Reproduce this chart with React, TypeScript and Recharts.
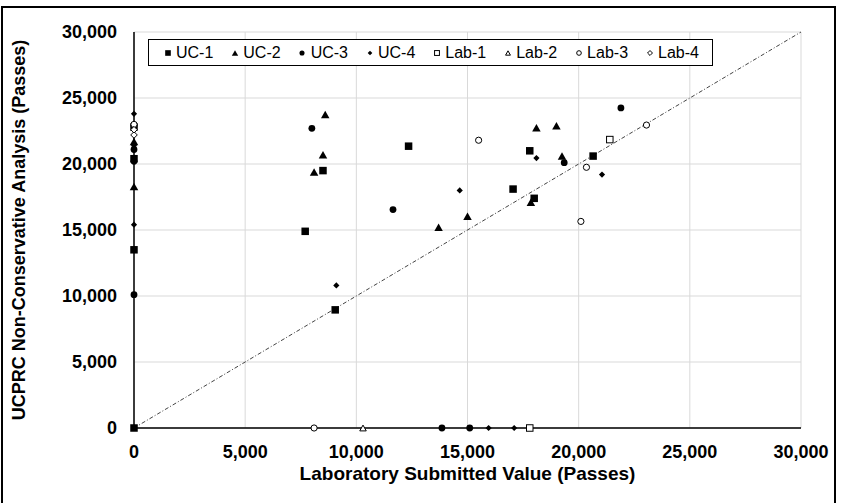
import React from 'react';
import { ScatterChart, Scatter, XAxis, YAxis, CartesianGrid, ReferenceLine, Legend, Label } from 'recharts';

const FONT = '"Liberation Sans", Arial, sans-serif';

// Axis ticks (passes)
const AXIS_TICKS = [0, 5000, 10000, 15000, 20000, 25000, 30000];
const DIAGONAL = [0, 30000];

// Series names
const SERIES_NAMES = ['UC-1', 'UC-2', 'UC-3', 'UC-4', 'Lab-1', 'Lab-2', 'Lab-3', 'Lab-4'];

// [laboratory submitted value, UCPRC non-conservative analysis]
const UC1: [number, number][] = [
  [0, 0], [0, 13500], [0, 20400], [0, 22800], [7700, 14900], [8500, 19500], [9050, 8950],
  [12350, 21350], [17050, 18100], [17800, 21000], [18000, 17400], [20650, 20600],
];
const UC2: [number, number][] = [
  [0, 18300], [0, 21700], [8100, 19400], [8500, 20700], [8600, 23750], [13700, 15200],
  [15000, 16050], [17850, 17100], [18100, 22750], [19000, 22900], [19250, 20600],
];
const UC3: [number, number][] = [
  [0, 10100], [0, 20200], [0, 21100], [0, 22900], [8000, 22700], [11650, 16550],
  [13850, 0], [15100, 0], [19350, 20100], [21900, 24250],
];
const UC4: [number, number][] = [
  [0, 15400], [0, 21400], [0, 23800], [9100, 10800], [14650, 18000], [15950, 0],
  [17100, 0], [18100, 20450], [21050, 19200],
];
const LAB1: [number, number][] = [[17800, 0], [21400, 21850]];
const LAB2: [number, number][] = [[10300, 0]];
const LAB3: [number, number][] = [
  [0, 23000], [8100, 0], [15500, 21800], [20100, 15650], [20350, 19750], [23050, 22950],
];
const LAB4: [number, number][] = [[0, 22200], [0, 22600]];

type Kind = 'square' | 'triangle' | 'circle' | 'diamond';

const SERIES: { name: string; data: [number, number][]; kind: Kind; filled: boolean }[] = [
  { name: SERIES_NAMES[0], data: UC1, kind: 'square', filled: true },
  { name: SERIES_NAMES[1], data: UC2, kind: 'triangle', filled: true },
  { name: SERIES_NAMES[2], data: UC3, kind: 'circle', filled: true },
  { name: SERIES_NAMES[3], data: UC4, kind: 'diamond', filled: true },
  { name: SERIES_NAMES[4], data: LAB1, kind: 'square', filled: false },
  { name: SERIES_NAMES[5], data: LAB2, kind: 'triangle', filled: false },
  { name: SERIES_NAMES[6], data: LAB3, kind: 'circle', filled: false },
  { name: SERIES_NAMES[7], data: LAB4, kind: 'diamond', filled: false },
];

function markerEl(kind: Kind, filled: boolean, cx: number, cy: number, scale = 1) {
  const fill = filled ? '#000' : '#fff';
  const stroke = '#000';
  const sw = filled ? 0 : 1;
  if (kind === 'square') {
    const s = (filled ? 7.5 : 6.5) * scale;
    return <rect x={cx - s / 2} y={cy - s / 2} width={s} height={s} fill={fill} stroke={stroke} strokeWidth={sw} />;
  }
  if (kind === 'triangle') {
    const w = (filled ? 8.5 : 6.5) * scale;
    const h = (filled ? 7.5 : 5.8) * scale;
    const pts = `${cx},${cy - h / 2} ${cx + w / 2},${cy + h / 2} ${cx - w / 2},${cy + h / 2}`;
    return <polygon points={pts} fill={fill} stroke={stroke} strokeWidth={sw} strokeLinejoin="miter" />;
  }
  if (kind === 'circle') {
    const r = (filled ? 3.4 : 3.1) * scale;
    return <circle cx={cx} cy={cy} r={r} fill={fill} stroke={stroke} strokeWidth={sw} />;
  }
  const d = (filled ? 3.1 : 3.3) * scale;
  const pts = `${cx},${cy - d} ${cx + d},${cy} ${cx},${cy + d} ${cx - d},${cy}`;
  return <polygon points={pts} fill={fill} stroke={stroke} strokeWidth={sw} />;
}

const makeShape = (kind: Kind, filled: boolean) => (props: any) => {
  const { cx, cy } = props;
  if (cx == null || cy == null) return <g />;
  return markerEl(kind, filled, cx, cy);
};

const LegendBox = () => (
  <div
    style={{
      border: '1px solid #000',
      background: '#fff',
      height: 27,
      boxSizing: 'border-box',
      display: 'flex',
      alignItems: 'center',
      paddingLeft: 13.7,
      fontFamily: FONT,
      fontSize: 16,
      color: '#000',
      whiteSpace: 'nowrap',
    }}
  >
    {SERIES.map((s) => (
      <div key={s.name} style={{ display: 'flex', alignItems: 'center', marginRight: 16.7 }}>
        <svg width={10} height={10} style={{ marginRight: 3.3, display: 'block' }}>
          {markerEl(s.kind, s.filled, 5, 5, 0.75)}
        </svg>
        <span style={{ lineHeight: '16px' }}>{s.name}</span>
      </div>
    ))}
  </div>
);

const fmt = (v: number) => v.toLocaleString('en-US');

const tickStyle = { fontSize: 18, fontWeight: 700, fill: '#000', fontFamily: FONT };

const YTitle = () => (
  <text
    transform="translate(19, 230) rotate(-90)"
    x={0}
    y={6.4}
    textAnchor="middle"
    style={{ fontSize: 18, fontWeight: 700, fill: '#000', fontFamily: FONT }}
  >
    UCPRC Non-Conservative Analysis (Passes)
  </text>
);

export default function App() {
  return (
    <div style={{ position: 'absolute', left: 0, top: 0, width: 843, height: 503, overflow: 'hidden', background: '#fff' }}>
      <div
        style={{
          position: 'absolute',
          left: 1,
          top: 6,
          width: 835,
          height: 520,
          border: '2px solid #000',
          boxSizing: 'border-box',
        }}
      />
      <ScatterChart width={843} height={503} margin={{ top: 32, right: 42, bottom: 19, left: 0 }}>
        <CartesianGrid stroke="#d9d9d9" strokeWidth={1} horizontal vertical />
        <XAxis
          type="number"
          dataKey="x"
          domain={[0, 30000]}
          ticks={AXIS_TICKS}
          tickFormatter={fmt}
          tick={tickStyle}
          tickLine={false}
          tickSize={0}
          tickMargin={17}
          axisLine={{ stroke: '#000', strokeWidth: 1.5 }}
          height={56}
          interval={0}
        >
          <Label
            value="Laboratory Submitted Value (Passes)"
            position="insideBottom"
            offset={4}
            style={{ fontSize: 19, fontWeight: 700, fill: '#000', fontFamily: FONT }}
          />
        </XAxis>
        <YAxis
          type="number"
          dataKey="y"
          domain={[0, 30000]}
          ticks={AXIS_TICKS}
          tickFormatter={fmt}
          tick={tickStyle}
          tickLine={false}
          tickSize={0}
          tickMargin={17}
          axisLine={{ stroke: '#000', strokeWidth: 1.5 }}
          width={134}
          interval={0}
          label={{ content: () => <YTitle /> }}
        />
        <ReferenceLine
          segment={[
            { x: DIAGONAL[0], y: DIAGONAL[0] },
            { x: DIAGONAL[1], y: DIAGONAL[1] },
          ]}
          stroke="#444"
          strokeWidth={1}
          strokeDasharray="4 2 1 2"
        />
        {SERIES.map((s) => (
          <Scatter
            key={s.name}
            name={s.name}
            data={s.data.map(([x, y]) => ({ x, y }))}
            shape={makeShape(s.kind, s.filled)}
            isAnimationActive={false}
          />
        ))}
        <Legend
          layout="horizontal"
          align="center"
          verticalAlign="middle"
          content={() => <LegendBox />}
          wrapperStyle={{ left: 148, top: 39, width: 565, height: 27 }}
        />
      </ScatterChart>
    </div>
  );
}
